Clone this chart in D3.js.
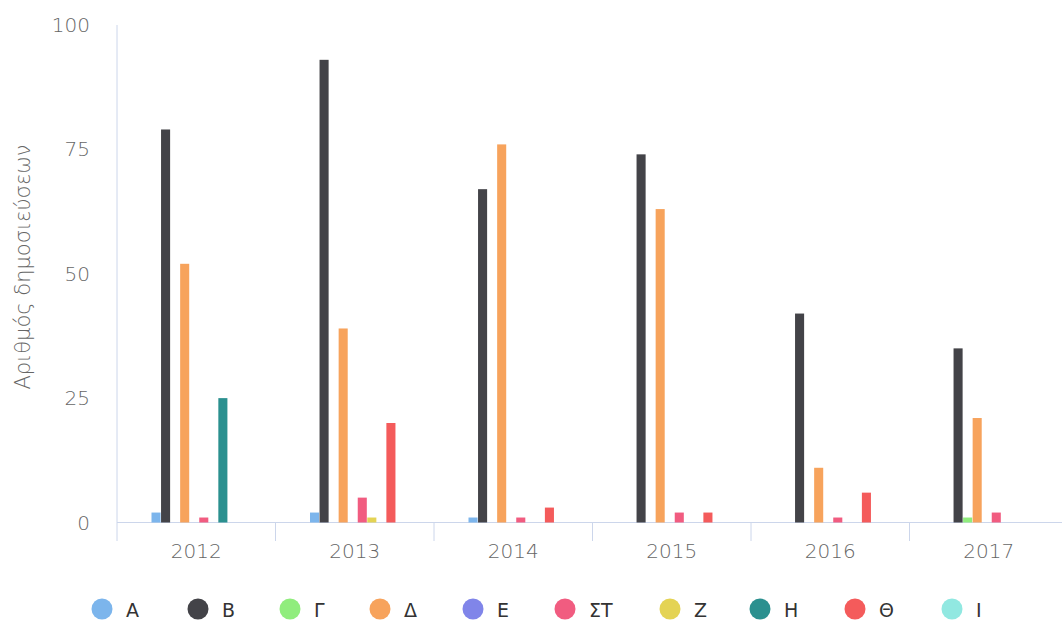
<!DOCTYPE html>
<html>
<head>
<meta charset="utf-8">
<script src="https://cdn.jsdelivr.net/npm/d3@7"></script>
<style>
  body { margin: 0; background: #fff; }
  svg { display: block; font-family: "DejaVu Sans", sans-serif; font-weight: 300; }
</style>
</head>
<body>
<div id="chart"></div>
<script>
const years = ["2012", "2013", "2014", "2015", "2016", "2017"];
const seriesNames = ["Α", "Β", "Γ", "Δ", "Ε", "ΣΤ", "Ζ", "Η", "Θ", "Ι"];
const seriesColors = ["#7cb5ec", "#434348", "#90ed7d", "#f7a35c", "#8085e9",
  "#f15c80", "#e4d354", "#2b908f", "#f45b5b", "#91e8e1"];

// one array per series, values per year
const valA  = [2, 2, 1, 0, 0, 0];
const valB  = [79, 93, 67, 74, 42, 35];
const valG  = [0, 0, 0, 0, 0, 1];
const valD  = [52, 39, 76, 63, 11, 21];
const valE  = [0, 0, 0, 0, 0, 0];
const valST = [1, 5, 1, 2, 1, 2];
const valZ  = [0, 1, 0, 0, 0, 0];
const valH  = [25, 0, 0, 0, 0, 0];
const valTh = [0, 20, 3, 2, 6, 0];
const valI  = [0, 0, 0, 0, 0, 0];
const yTicks = [0, 25, 50, 75, 100];
const yTitle = "Αριθμός δημοσιεύσεων";

const allValues = [valA, valB, valG, valD, valE, valST, valZ, valH, valTh, valI];

const width = 1062;
const height = 623;
const plotLeft = 117, plotTop = 25, plotBottom = 522.5;

const svg = d3.select("#chart").append("svg")
  .attr("width", width).attr("height", height);

const x = d3.scaleBand().domain(years).range([plotLeft, plotLeft + 6 * 158.5]);
const y = d3.scaleLinear().domain([0, 100]).range([plotBottom, plotTop]);
// group of bars sits a little right of the band's centre
const xInner = d3.scaleBand().domain(seriesNames)
  .range([34.5, 34.5 + 95]).paddingInner(0.05).paddingOuter(0);

// axis lines
svg.append("line")
  .attr("x1", plotLeft).attr("x2", plotLeft).attr("y1", plotTop).attr("y2", 541)
  .attr("stroke", "#ccd6eb").attr("stroke-width", 1);
svg.append("line")
  .attr("x1", plotLeft).attr("x2", width).attr("y1", plotBottom).attr("y2", plotBottom)
  .attr("stroke", "#ccd6eb").attr("stroke-width", 1);

// category ticks
svg.append("g").selectAll("line")
  .data(years.slice(1))
  .join("line")
  .attr("x1", d => x(d)).attr("x2", d => x(d))
  .attr("y1", plotBottom).attr("y2", 541)
  .attr("stroke", "#ccd6eb");

// x labels
svg.append("g").selectAll("text")
  .data(years).join("text")
  .attr("x", d => x(d) + x.bandwidth() / 2)
  .attr("y", 558)
  .attr("text-anchor", "middle")
  .attr("font-size", 20)
  .attr("fill", "#666")
  .text(d => d);

// y labels
svg.append("g").selectAll("text")
  .data(yTicks).join("text")
  .attr("x", 90)
  .attr("y", d => y(d) + 7)
  .attr("text-anchor", "end")
  .attr("font-size", 20)
  .attr("fill", "#666")
  .text(d => d);

svg.append("text")
  .attr("transform", "translate(30, 267) rotate(-90)")
  .attr("text-anchor", "middle")
  .attr("font-size", 21)
  .attr("fill", "#666")
  .text(yTitle);

// bars
seriesNames.forEach((name, si) => {
  svg.append("g")
    .attr("fill", seriesColors[si])
    .selectAll("rect")
    .data(years.map((yr, i) => ({ yr, v: allValues[si][i] })).filter(d => d.v > 0))
    .join("rect")
    .attr("x", d => x(d.yr) + xInner(name))
    .attr("width", xInner.bandwidth())
    .attr("y", d => y(d.v))
    .attr("height", d => plotBottom - y(d.v));
});

// legend
const legendX = [102, 198, 290, 380, 473, 565, 670, 760, 855, 952];
const legend = svg.append("g").selectAll("g")
  .data(seriesNames).join("g")
  .attr("transform", (d, i) => `translate(${legendX[i]}, 609)`);
legend.append("circle")
  .attr("r", 10.5)
  .attr("fill", (d, i) => seriesColors[i]);
legend.append("text")
  .attr("x", 24)
  .attr("y", 8)
  .attr("font-size", 19)
  .attr("font-weight", 400)
  .attr("fill", "#333")
  .text(d => d);
</script>
</body>
</html>
